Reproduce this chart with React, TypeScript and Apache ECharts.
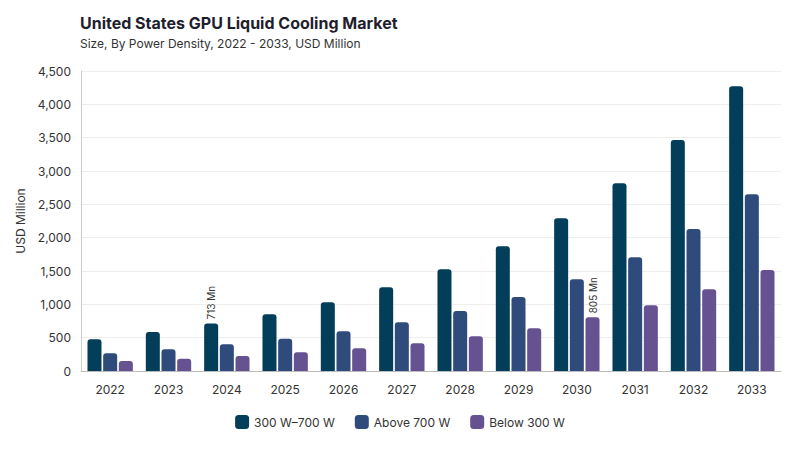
import React, { useEffect, useRef } from 'react';
import * as echarts from 'echarts';

// Chart data
const years = ['2022', '2023', '2024', '2025', '2026', '2027', '2028', '2029', '2030', '2031', '2032', '2033'];
const mid = [475, 585, 713, 850, 1030, 1255, 1525, 1870, 2290, 2815, 3465, 4270];
const above = [265, 325, 400, 485, 595, 730, 900, 1110, 1375, 1705, 2130, 2650];
const below = [150, 185, 225, 280, 340, 415, 520, 640, 805, 985, 1225, 1515];
const seriesNames = ['300 W\u2013700 W', 'Above 700 W', 'Below 300 W'];
const colors = ['#023e5a', '#2f4b7c', '#665191'];
// which bar gets a value label: [series index, category index]
const labelled: [number, number][] = [[0, 2], [2, 8]];

const FONT = 'Inter, "Noto Sans", sans-serif';

const App: React.FC = () => {
  const chartRef = useRef<HTMLDivElement>(null);

  useEffect(() => {
    if (!chartRef.current) return;
    const chart = echarts.init(chartRef.current, undefined, { renderer: 'svg' });

    const makeData = (values: number[], si: number) =>
      values.map((v, i) => {
        const hit = labelled.some(([s, c]) => s === si && c === i);
        if (!hit) return v;
        return {
          value: v,
          label: {
            show: true,
            position: 'top',
            rotate: 90,
            align: 'left',
            verticalAlign: 'middle',
            distance: 4,
            formatter: '{c} Mn',
            fontSize: 10,
            color: '#333',
            fontFamily: FONT,
          },
        };
      });

    const all = [mid, above, below];

    chart.setOption({
      animation: false,
      textStyle: { fontFamily: FONT },
      title: {
        text: 'United States GPU Liquid Cooling Market',
        subtext: 'Size, By Power Density, 2022 - 2033, USD Million',
        left: 75,
        top: 10,
        itemGap: 6,
        textStyle: { fontSize: 16, fontWeight: 'bold', color: '#1e1e2e', fontFamily: FONT },
        subtextStyle: { fontSize: 12, color: '#333', fontFamily: FONT },
      },
      legend: {
        bottom: 16,
        left: 'center',
        itemWidth: 14,
        itemHeight: 14,
        itemGap: 20,
        icon: 'roundRect',
        textStyle: { fontSize: 12, color: '#333', fontFamily: FONT },
        data: seriesNames,
      },
      grid: { left: 81, right: 19, top: 71, bottom: 79 },
      xAxis: {
        type: 'category',
        data: years,
        axisTick: { show: false },
        axisLine: { lineStyle: { color: '#bbb' } },
        axisLabel: { fontSize: 12, color: '#333', margin: 12, fontFamily: FONT },
      },
      yAxis: {
        type: 'value',
        min: 0,
        max: 4500,
        interval: 500,
        name: 'USD Million',
        nameLocation: 'middle',
        nameGap: 52,
        nameTextStyle: { fontSize: 12, color: '#333', fontFamily: FONT },
        axisLine: { show: true, lineStyle: { color: '#ccc' } },
        axisLabel: {
          fontSize: 12,
          color: '#333',
          margin: 10,
          fontFamily: FONT,
          formatter: (v: number) => v.toLocaleString('en-US'),
        },
        splitLine: { lineStyle: { color: '#eee' } },
      },
      series: all.map((vals, si) => ({
        name: seriesNames[si],
        type: 'bar',
        barWidth: 14,
        barGap: '12%',
        data: makeData(vals, si),
        itemStyle: { color: colors[si], borderRadius: [3, 3, 0, 0] },
      })),
    });

    return () => {
      chart.dispose();
    };
  }, []);

  return <div ref={chartRef} style={{ width: 800, height: 450, margin: -8 }} />;
};

export default App;
